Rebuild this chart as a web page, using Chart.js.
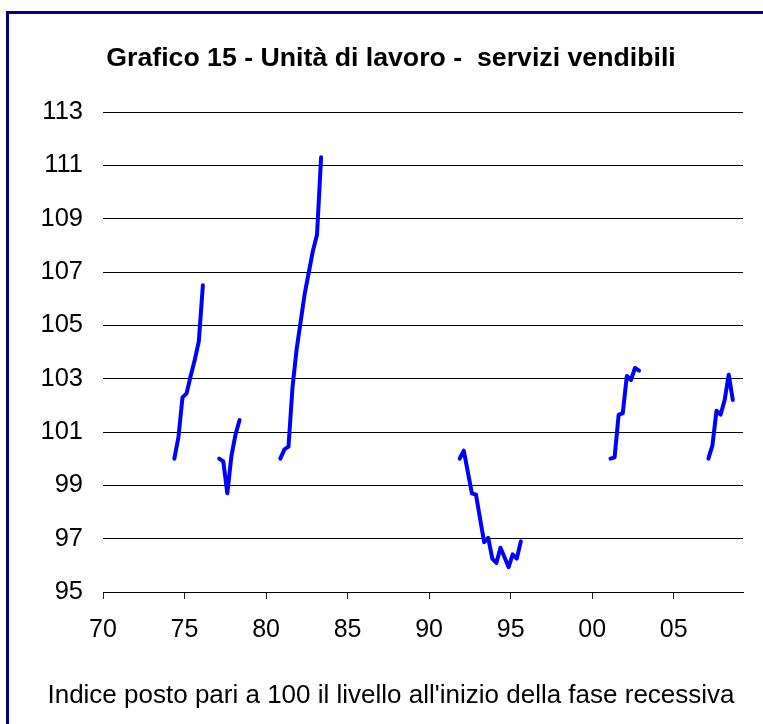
<!DOCTYPE html>
<html>
<head>
<meta charset="utf-8">
<script src="https://cdn.jsdelivr.net/npm/chart.js@4.4.0/dist/chart.umd.min.js"></script>
<style>
  html, body { margin: 0; padding: 0; background: #fff; overflow: hidden; }
  #wrap { position: relative; width: 763px; height: 724px; }
  #frame { position: absolute; left: 6px; top: 11px; width: 820px; height: 820px; border: 3px solid #000080; box-sizing: border-box; pointer-events: none; }
  canvas { position: absolute; left: 0; top: 0; }
</style>
</head>
<body>
<div id="wrap">
  <canvas id="chart" width="763" height="724"></canvas>
  <div id="frame"></div>
</div>
<script>
// x axis: quarters counted from 1970Q1 (0), labels every 5 years
const xTickLabels = ['70', '75', '80', '85', '90', '95', '00', '05'];

// quarter in which each recession episode starts (index = 100)
const episodeStarts = [17, 28, 43, 87, 124, 148];

// labour units, index = 100 at start of each recession, quarterly
const ep1974 = [100.0, 100.8, 102.3, 102.45, 103.1, 103.7, 104.4, 106.5];
const ep1977 = [100.0, 99.9, 98.7, 100.1, 100.9, 101.45];
const ep1981 = [100.0, 100.35, 100.45, 102.7, 104.1, 105.15, 106.2, 107.0, 107.8, 108.4, 111.3];
const ep1992 = [100.0, 100.3, 99.5, 98.7, 98.65, 97.75, 96.87, 97.03, 96.25, 96.09, 96.66, 96.3, 95.93, 96.41, 96.25, 96.9];
const ep2001 = [100.0, 100.05, 101.65, 101.7, 103.1, 102.95, 103.4, 103.3];
const ep2008 = [100.0, 100.5, 101.8, 101.65, 102.2, 103.15, 102.2];

const FONT = "'Liberation Sans', Arial, sans-serif";

const episodes = [ep1974, ep1977, ep1981, ep1992, ep2001, ep2008];

const datasets = episodes.map((vals, k) => ({
  data: vals.map((v, i) => ({ x: episodeStarts[k] + i + 0.5, y: v })),
  borderColor: '#0000ff',
  borderWidth: 4,
  borderCapStyle: 'round',
  borderJoinStyle: 'round',
  pointRadius: 0,
  tension: 0,
  fill: false
}));

const ctx = document.getElementById('chart').getContext('2d');
new Chart(ctx, {
  type: 'line',
  data: { datasets },
  options: {
    responsive: false,
    animation: false,
    layout: { padding: { left: 39, right: 20, top: 0, bottom: 0 } },
    plugins: {
      legend: { display: false },
      tooltip: { enabled: false },
      title: {
        display: true,
        text: 'Grafico 15 - Unità di lavoro -  servizi vendibili',
        color: '#000',
        font: { family: FONT, size: 26.7, weight: 'bold' },
        padding: { top: 43, bottom: 36.96 }
      },
      subtitle: {
        display: true,
        position: 'bottom',
        text: "Indice posto pari a 100 il livello all'inizio della fase recessiva",
        color: '#000',
        font: { family: FONT, size: 26 },
        padding: { top: 0, bottom: 12.4 }
      }
    },
    scales: {
      x: {
        type: 'linear',
        min: 0,
        max: 157,
        afterFit: (s) => { s.height = 88.4; },
        grid: { drawOnChartArea: false, drawTicks: true, tickLength: 7, color: '#222' },
        border: { display: true, color: '#000', width: 1 },
        ticks: {
          stepSize: 20,
          includeBounds: false,
          autoSkip: false,
          maxRotation: 0,
          padding: 16.5,
          color: '#000',
          font: { family: FONT, size: 25 },
          callback: (v) => xTickLabels[v / 20]
        }
      },
      y: {
        min: 95,
        max: 113,
        afterFit: (s) => { s.width = 64; },
        grid: { color: '#000', drawTicks: false },
        border: { display: false },
        ticks: {
          stepSize: 2,
          padding: 20,
          color: '#000',
          font: { family: FONT, size: 25.5 }
        }
      }
    }
  }
});
</script>
</body>
</html>
